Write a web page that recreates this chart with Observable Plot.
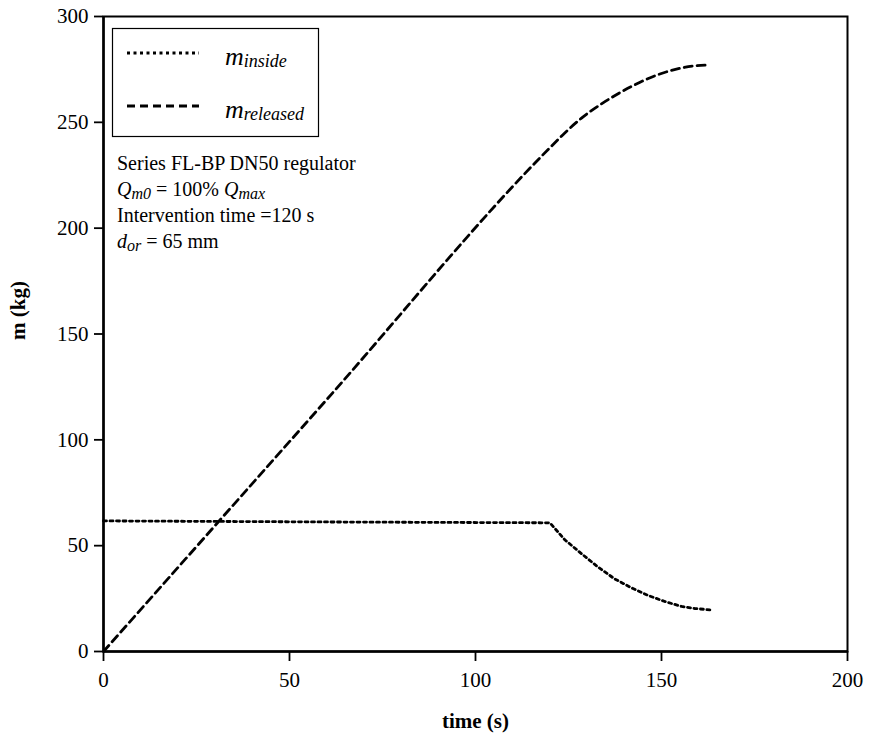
<!DOCTYPE html>
<html>
<head>
<meta charset="utf-8">
<script src="https://cdn.jsdelivr.net/npm/d3@7"></script>
<script src="https://cdn.jsdelivr.net/npm/@observablehq/plot@0.6"></script>
<style>
  html, body { margin: 0; padding: 0; background: #fff; }
  #chart { width: 869px; height: 738px; }
</style>
</head>
<body>
<div id="chart"></div>
<script>
// ---- data ----
const timeInside = [0, 60, 120, 124, 128.5, 133, 137.4, 141.9, 146.4, 150.9, 155.4, 159, 163];
const mInside    = [61.7, 61.2, 60.8, 52.8, 46.2, 39.8, 34.3, 30.1, 26.5, 23.6, 21.3, 20.3, 19.7];

const timeReleased = [0, 60, 120, 124, 128.5, 135, 142, 149, 155.5, 159, 163];
const mReleased    = [0, 119, 238, 245, 252, 260, 267, 272.5, 275.7, 276.7, 277.1];

const xTicks = [0, 50, 100, 150, 200];
const yTicks = [0, 50, 100, 150, 200, 250, 300];
const xLabel = "time (s)";
const yLabel = "m (kg)";

const legendItems = [
  {base: "m", sub: "inside", dash: "3,3.5"},
  {base: "m", sub: "released", dash: "8,5"}
];
const notes = [
  [{t: "Series FL-BP DN50 regulator"}],
  [{t: "Q", i: true}, {t: "m0", i: true, sub: true}, {t: " = 100% "}, {t: "Q", i: true}, {t: "max", i: true, sub: true}],
  [{t: "Intervention time =120 s"}],
  [{t: "d", i: true}, {t: "or", i: true, sub: true}, {t: " = 65 mm"}]
];

const inside = timeInside.map((t, k) => ({t, m: mInside[k]}));
const released = timeReleased.map((t, k) => ({t, m: mReleased[k]}));

const fam = "Liberation Serif, Times New Roman, serif";

const chart = Plot.plot({
  width: 869,
  height: 738,
  marginLeft: 103,
  marginRight: 22,
  marginTop: 16,
  marginBottom: 87,
  style: {fontFamily: fam, fontSize: "21px", color: "black", background: "white"},
  x: {domain: [0, 200]},
  y: {domain: [0, 300]},
  marks: [
    Plot.frame({stroke: "black", strokeWidth: 2}),
    Plot.ruleX([0], {stroke: "black", strokeWidth: 2.5}),
    Plot.ruleY([0], {stroke: "black", strokeWidth: 2.5}),
    Plot.axisX({ticks: xTicks, tickSize: 10, tickPadding: 11, label: null, strokeWidth: 1.8, fontSize: 21}),
    Plot.axisY({ticks: yTicks, tickSize: 9, tickPadding: 6, label: null, strokeWidth: 1.8, fontSize: 21}),
    Plot.text([xLabel], {frameAnchor: "bottom", dy: 76, fontWeight: "bold", fontSize: 21}),
    Plot.text([yLabel], {frameAnchor: "left", rotate: -90, dx: -85, dy: 6, fontWeight: "bold", fontSize: 21}),
    Plot.line(inside, {x: "t", y: "m", stroke: "black", strokeWidth: 2.8, strokeDasharray: "3,3.5", curve: "linear"}),
    Plot.line(released, {x: "t", y: "m", stroke: "black", strokeWidth: 2.8, strokeDasharray: "8,5", curve: "monotone-x"})
  ]
});

document.getElementById("chart").appendChild(chart);

// ---- legend box and annotation, drawn into the same SVG ----
const svg = d3.select(chart);
const leg = svg.append("g").attr("text-anchor", "start").attr("font-family", fam);
leg.append("rect").attr("x", 112.5).attr("y", 28.5).attr("width", 206).attr("height", 108)
  .attr("fill", "white").attr("stroke", "black").attr("stroke-width", 1.2);
legendItems.forEach((d, k) => {
  const y = 53 + k * 53;
  leg.append("line").attr("x1", 127).attr("x2", 199).attr("y1", y).attr("y2", y)
    .attr("stroke", "black").attr("stroke-width", 2.8).attr("stroke-dasharray", d.dash);
  const tx = leg.append("text").attr("x", 225).attr("y", y + 12)
    .attr("font-style", "italic").attr("fill", "black");
  tx.append("tspan").attr("font-size", 26).text(d.base);
  tx.append("tspan").attr("font-size", 18).attr("dy", 2).text(d.sub);
});

const ann = svg.append("g").attr("font-family", fam).attr("fill", "black").attr("text-anchor", "start");
notes.forEach((line, k) => {
  const tx = ann.append("text").attr("x", 117).attr("y", 170 + k * 26).attr("font-size", 20);
  let shift = 0;
  line.forEach(p => {
    const s = tx.append("tspan").text(p.t);
    if (p.i) s.attr("font-style", "italic");
    if (p.sub) { s.attr("font-size", 16).attr("dy", 3 - shift); shift = 3; }
    else { s.attr("dy", -shift); shift = 0; }
  });
});
</script>
</body>
</html>
